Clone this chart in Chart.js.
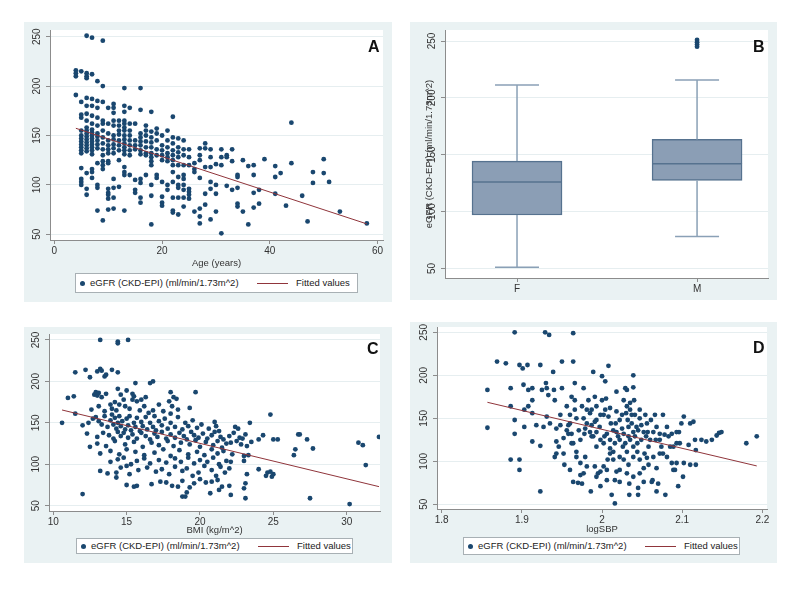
<!DOCTYPE html>
<html>
<head>
<meta charset="utf-8">
<script src="https://cdn.jsdelivr.net/npm/chart.js@4.4.1/dist/chart.umd.min.js"></script>
<style>
  body { margin: 0; background: #fff; font-family: "Liberation Sans", Arial, sans-serif; }
  .panel { position: absolute; background: #eaf2f3; }
  .panel canvas { position: absolute; left: 0; top: 0; }
  .tag { position: absolute; font-weight: bold; font-size: 16px; line-height: 16px; color: #111; }
  .legend { position: absolute; background: #fff; border: 1px solid #a8b0b4; box-sizing: border-box; font-size: 9.5px; color: #222; }
  .legend span { position: absolute; white-space: nowrap; }
  .legend .dot { width: 5px; height: 5px; border-radius: 50%; background: #1a476f; }
  .legend .ln { height: 0; border-top: 1px solid #90353b; }
</style>
</head>
<body>
<div class="panel" id="pA" style="left:24px;top:22px;width:368px;height:280px">
  <canvas id="cA" width="368" height="280"></canvas>
  <div class="tag" style="left:344px;top:17px">A</div>
</div>
<div class="panel" id="pB" style="left:410px;top:22px;width:367px;height:278px">
  <canvas id="cB" width="367" height="278"></canvas>
  <div class="tag" style="left:343px;top:17px">B</div>
</div>
<div class="panel" id="pC" style="left:24px;top:327px;width:368px;height:236px">
  <canvas id="cC" width="368" height="236"></canvas>
  <div class="tag" style="left:343px;top:14px">C</div>
</div>
<div class="panel" id="pD" style="left:410px;top:322px;width:367px;height:241px">
  <canvas id="cD" width="367" height="241"></canvas>
  <div class="tag" style="left:343px;top:18px">D</div>
</div>

<script>
// ---- data ----
const legendLabels = ['eGFR (CKD-EPI) (ml/min/1.73m^2)', 'Fitted values'];
const egfrTicks = [50, 100, 150, 200, 250];

// A: age (years) -> eGFR values seen in that column
const ageTicks = [0, 20, 40, 60];
const ageColumns = [
  [4, [216, 213, 210, 191]],
  [5, [215, 184, 171, 168, 155, 150, 147, 144, 141, 138, 135, 132, 117, 106, 103, 100]],
  [6, [251, 213, 210, 208, 188, 180, 172, 165, 158, 155, 152, 149, 146, 143, 140, 137, 134, 112, 96, 90]],
  [7, [249, 212, 187, 180, 170, 162, 156, 153, 150, 147, 144, 141, 138, 135, 131, 116, 113, 107]],
  [8, [205, 185, 178, 168, 160, 152, 149, 145, 141, 137, 122, 100, 97, 74]],
  [9, [246, 200, 184, 165, 162, 155, 148, 142, 136, 130, 124, 120, 116, 64]],
  [10, [178, 162, 152, 145, 140, 136, 132, 124, 122, 96, 92, 90, 86, 75]],
  [11, [182, 178, 173, 165, 160, 150, 146, 141, 137, 132, 106, 97, 87, 76]],
  [12, [165, 160, 155, 151, 145, 140, 135, 125, 98]],
  [13, [198, 180, 174, 165, 162, 158, 155, 150, 146, 142, 138, 135, 131, 118, 113, 110, 74]],
  [14, [178, 162, 155, 150, 145, 140, 135, 130, 110]],
  [15, [162, 145, 140, 136, 105, 95, 92]],
  [16, [198, 176, 152, 148, 144, 140, 135, 131, 106, 102, 87, 82]],
  [17, [160, 155, 150, 144, 138, 132, 130, 110]],
  [18, [174, 154, 148, 143, 138, 132, 128, 124, 120, 100, 89, 60]],
  [19, [157, 152, 145, 136, 130, 110, 107]],
  [20, [150, 140, 135, 130, 125, 103, 88, 82, 79]],
  [21, [155, 145, 138, 132, 128, 124, 100, 95]],
  [22, [169, 148, 142, 135, 130, 125, 120, 113, 103, 87, 74, 72]],
  [23, [147, 138, 133, 128, 120, 108, 100, 97, 87, 70]],
  [24, [145, 136, 130, 120, 110, 106, 100, 95, 87, 78]],
  [25, [136, 128, 120, 96, 93, 90, 86]],
  [26, [122, 116, 113, 73]],
  [27, [137, 130, 125, 107, 76, 68, 61]],
  [28, [142, 137, 118, 91, 80]],
  [29, [136, 128, 118, 103, 96, 65]],
  [30, [121, 100, 91, 73]],
  [31, [136, 128, 120, 51]],
  [32, [130, 128, 99]],
  [33, [136, 124, 95]],
  [34, [110, 108, 97, 81, 78]],
  [35, [125, 73]],
  [36, [119, 60]],
  [37, [120, 110, 92, 77]],
  [38, [95, 81]],
  [39, [126]],
  [41, [119, 108, 91]],
  [42, [112]],
  [43, [79]],
  [44, [163, 122]],
  [46, [89]],
  [47, [63]],
  [48, [113, 102]],
  [50, [126, 112]],
  [51, [103]],
  [53, [73]],
  [58, [61]]
];
const ageFit = [[4, 157.3], [58, 60.5]];

// B: box plot by sex
const sexCats = ['F', 'M'];
const boxMin = [51, 78];
const boxQ1 = [97, 127.4];
const boxMedian = [126, 142];
const boxQ3 = [144.4, 163.5];
const boxMax = [211.3, 215.7];
const outliersM = [251, 249, 247, 245];

// C: BMI (kg/m^2) vs eGFR
const bmiTicks = [10, 15, 20, 25, 30];
const bmiPoints = [
  [13.2,250],[14.4,248],[14.4,246],[15.1,250],
  [11.5,211],[12.2,214],[12.5,205],[13.0,212],[13.2,215],[13.3,213],[13.5,206],[13.6,208],[14.0,214],[14.4,211],
  [11.0,180],[11.4,182],[12.8,184],[12.9,187],[13.0,183],[13.1,186],[13.3,181],[13.6,185],[14.4,191],[14.6,184],
  [15.0,189],[15.4,185],[15.6,198],[15.5,182],[16.0,178],[16.3,181],[16.6,198],[16.8,200],[18.0,187],[18.2,181],
  [18.4,179],[19.7,187],
  [11.5,161],[12.6,166],[13.1,170],[13.5,164],[13.9,172],[14.0,167],[14.2,175],[14.3,165],[14.5,172],[14.8,178],
  [14.9,170],[15.2,167],[15.4,178],[15.7,176],[15.9,165],[16.2,170],[16.5,162],[16.8,165],[17.2,172],[17.5,164],
  [17.9,176],[18.1,170],[18.5,166],[19.3,168],[18.0,161],
  [10.6,150],[12.4,150],[12.7,155],[12.9,157],[13.1,152],[13.3,148],[13.5,158],[13.7,145],[13.9,153],[14.0,160],
  [14.1,148],[14.2,156],[14.3,143],[14.4,150],[14.5,158],[14.6,146],[14.7,152],[14.9,142],[15.0,155],[15.1,147],
  [15.2,158],[15.3,141],[15.5,150],[15.6,145],[15.7,156],[15.9,140],[16.0,151],[16.1,146],[16.3,157],[16.4,142],
  [16.6,150],[16.8,145],[16.9,158],[17.0,141],[17.2,152],[17.4,147],[17.6,155],[17.8,143],[18.0,150],[18.3,145],
  [18.5,157],[18.8,142],[19.0,150],[19.2,146],[19.5,153],[19.8,144],[20.1,148],[20.6,143],[21.0,151],[21.1,146],
  [21.3,140],[22.4,145],[22.6,143],[23.4,150],[24.8,160],[12.0,147],
  [12.3,137],[13.0,133],[13.4,138],[13.8,135],[14.1,131],[14.4,139],[14.6,134],[14.8,138],[15.1,132],[15.4,136],
  [15.7,131],[16.0,138],[16.3,134],[16.6,130],[16.9,137],[17.1,133],[17.4,139],[17.7,131],[18.0,136],[18.3,132],
  [18.6,138],[18.9,134],[19.1,130],[19.4,139],[19.6,135],[19.9,132],[20.2,137],[20.5,131],[20.8,135],[21.0,139],
  [21.4,133],[21.6,130],[22.0,134],[22.3,138],[22.7,132],[22.9,131],[23.1,136],[24.0,130],[24.3,135],[25.0,130],
  [25.3,130],[26.7,136],[26.8,136],[27.3,130],[32.2,133],
  [12.5,121],[13.0,125],[13.6,122],[14.2,128],[14.9,124],[15.5,127],[16.1,121],[16.7,126],[17.2,123],[17.8,128],
  [18.2,122],[18.7,126],[19.3,124],[19.7,129],[20.0,121],[20.4,127],[20.9,123],[21.2,128],[21.5,120],[21.8,125],
  [22.1,126],[22.5,128],[22.8,124],[23.2,122],[23.5,127],[26.5,118],[27.7,119],[30.8,126],[31.1,123],
  [13.2,113],[13.9,116],[14.5,112],[15.0,118],[15.6,115],[16.2,111],[16.9,114],[17.5,118],[18.0,110],[18.6,117],
  [19.2,112],[19.8,115],[20.3,111],[20.8,118],[21.2,113],[21.6,116],[22.2,112],[23.0,110],[23.3,111],[26.4,111],
  [13.9,103],[14.4,106],[14.8,108],[15.3,100],[15.7,104],[16.2,107],[16.6,101],[17.2,105],[17.7,102],[18.3,107],
  [18.7,103],[19.2,108],[19.6,101],[20.0,105],[20.5,103],[20.9,108],[21.3,100],[21.8,104],[22.1,103],[23.0,104],
  [24.0,94],[24.6,90],[24.8,91],[25.0,88],[31.3,99],
  [13.2,92],[13.7,89],[14.3,90],[14.6,96],[15.0,98],[15.2,88],[15.8,93],[16.4,96],[17.0,91],[17.4,94],
  [17.9,88],[18.3,97],[18.8,92],[19.1,95],[19.5,86],[19.9,90],[20.3,98],[20.8,93],[21.1,86],[21.4,97],
  [21.7,90],[22.0,95],[23.2,88],[24.5,86],[24.9,85],
  [14.3,84],[15.0,75],[15.5,73],[15.7,74],[16.7,76],[17.3,79],[17.7,78],[18.1,74],[18.5,73],[18.8,80],
  [19.3,72],[19.6,77],[20.0,82],[20.4,78],[20.8,79],[21.2,81],[21.5,73],[22.0,74],[23.0,71],[23.1,77],
  [12.0,64],[18.8,61],[19.0,61],[19.1,66],[20.7,65],[21.3,69],[22.1,63],[23.1,59],[27.5,59],[30.2,52]
];
const bmiFit = [[10.6, 165.5], [32.2, 73]];

// D: logSBP vs eGFR
const sbpTicks = [1.8, 1.9, 2, 2.1, 2.2];
const sbpPoints = [
  [1.857,139],[1.857,183],[1.869,216],[1.880,214],[1.886,185],[1.886,164],[1.886,102],[1.891,148],[1.891,132],
  [1.891,250],[1.897,212],[1.897,102],[1.897,90],[1.901,208],[1.902,189],[1.903,160],[1.903,140],[1.907,212],
  [1.908,183],[1.908,164],[1.913,156],[1.913,171],[1.913,185],[1.913,123],[1.918,142],[1.923,65],[1.923,118],
  [1.923,212],[1.925,183],[1.929,250],[1.934,247],[1.930,191],[1.931,185],[1.933,177],[1.927,140],[1.931,152],
  [1.935,144],[1.939,204],[1.940,183],[1.941,171],[1.943,138],[1.946,117],[1.950,216],[1.948,154],[1.950,185],
  [1.952,127],[1.952,109],[1.953,96],[1.956,164],[1.958,142],[1.958,132],[1.960,154],[1.962,175],[1.962,121],
  [1.960,90],[1.964,249],[1.964,216],[1.966,191],[1.966,171],[1.966,160],[1.968,150],[1.968,111],[1.964,76],
  [1.970,75],[1.975,74],[1.971,136],[1.973,125],[1.973,98],[1.973,84],[1.977,185],[1.977,150],[1.978,132],
  [1.979,105],[1.983,171],[1.985,156],[1.987,129],[1.986,65],[1.989,204],[1.991,175],[1.991,146],[1.991,94],
  [1.993,117],[1.995,86],[1.997,140],[2.000,199],[2.000,171],[2.002,154],[2.003,129],[2.004,193],[2.005,173],
  [2.006,78],[2.007,102],[2.008,211],[2.010,162],[2.012,61],[2.014,111],[2.016,51],[2.017,144],[2.018,88],
  [2.018,181],[2.020,129],[2.022,76],[2.025,154],[2.026,117],[2.029,185],[2.031,183],[2.031,164],[2.032,148],
  [2.033,140],[2.033,129],[2.033,96],[2.034,74],[2.034,61],[2.039,200],[2.039,186],[2.040,171],[2.041,154],
  [2.043,140],[2.044,121],[2.044,111],[2.045,69],[2.045,61],[2.047,160],[2.049,125],[2.052,92],[2.052,76],
  [2.056,144],[2.057,134],[2.058,117],[2.061,148],[2.062,76],[2.063,78],[2.066,154],[2.067,125],[2.068,92],
  [2.068,65],[2.070,74],[2.072,132],[2.074,117],[2.076,109],[2.076,154],[2.079,61],[2.081,140],[2.083,129],
  [2.085,117],[2.087,98],[2.089,90],[2.091,90],[2.093,98],[2.095,71],[2.096,134],[2.097,121],[2.099,144],
  [2.101,82],[2.102,152],[2.102,98],[2.108,119],[2.110,144],[2.110,96],[2.114,146],[2.116,125],[2.117,113],
  [2.117,96],[2.124,125],[2.130,123],[2.137,125],[2.143,130],[2.146,133],[2.149,134],[2.180,121],[2.193,129],
  [2.004,160],[2.008,152],[2.011,144],[2.014,136],[2.018,158],[2.022,148],[2.025,138],[2.027,132],[2.035,160],
  [2.037,154],[2.037,144],[2.039,134],[2.041,129],[2.045,136],[2.047,150],[2.049,142],[2.052,134],[2.054,154],
  [2.055,129],[2.035,168],[2.030,156],[2.027,171],[1.998,154],[1.993,148],[1.987,142],[1.981,144],[1.979,138],
  [1.985,134],[1.989,129],[1.993,134],[1.998,125],[2.002,121],[2.006,132],[2.010,125],[1.975,164],[1.981,160],
  [1.987,160],[1.993,164],[1.956,136],[1.960,144],[1.962,132],[1.943,109],[1.941,105],[1.943,123],[1.948,142],
  [2.002,94],[2.006,90],[1.998,88],[2.010,109],[2.014,102],[2.022,105],[2.027,102],[2.031,111],[2.039,105],
  [2.047,102],[2.056,104],[2.064,105],[2.072,109],[2.081,105],[2.089,117],[2.093,121],[2.072,125],[2.078,131],
  [2.087,132],[2.093,134],[2.064,134],[2.068,140],[2.060,125],[2.053,109],[2.058,96],[2.047,86],[2.039,82],
  [2.031,86],[2.022,90],[2.016,78],[1.998,71],[1.993,82],[1.981,94],[1.977,86],[1.968,105],[1.964,121],
  [2.039,117],[2.035,125],[2.029,121],[2.022,125],[2.018,134],[2.016,121],[2.010,115]
];
const sbpFit = [[1.857, 168.6], [2.193, 94.6]];

// ---- styling ----
Chart.defaults.font.family = '"Liberation Sans", Arial, sans-serif';
Chart.defaults.font.size = 10;
Chart.defaults.color = '#333';
const navy = '#1a476f';
const maroon = '#90353b';
const axisColor = '#8c8c8c';
const gridColor = '#e6eef0';
const boxFill = '#8b9eb5';
const boxEdge = '#56728f';
const whiskerColor = '#8aa0b6';
const boxWidth = 90;
const capWidth = 44;

const plotBg = {
  id: 'plotBg',
  beforeDraw(chart) {
    const { ctx, chartArea: a } = chart;
    ctx.save();
    ctx.fillStyle = '#fff';
    ctx.fillRect(a.left, a.top, a.right - a.left, a.bottom - a.top);
    ctx.restore();
  }
};

function fixedTicks(values) {
  return (scale) => { scale.ticks = values.map((v) => ({ value: v })); };
}

function yAxis(min, max, width, title) {
  return {
    type: 'linear',
    min, max,
    afterBuildTicks: fixedTicks(egfrTicks),
    afterFit: (s) => { s.width = width; s.paddingTop = 0; s.paddingBottom = 0; },
    grid: { color: gridColor, tickColor: axisColor, tickLength: 4 },
    border: { color: axisColor },
    ticks: { minRotation: 90, maxRotation: 90, crossAlign: 'center', padding: 0, callback: (v) => String(v) },
    title: title
      ? { display: true, text: title, color: '#333', font: { size: 9.5 }, padding: { top: 13.5, bottom: 0 } }
      : { display: false }
  };
}

function xAxis(min, max, height, ticks, title, titlePad, labels) {
  return {
    type: 'linear',
    min, max,
    offset: false,
    afterBuildTicks: fixedTicks(ticks),
    afterFit: (s) => { s.height = height; s.paddingLeft = 0; s.paddingRight = 0; },
    grid: { drawOnChartArea: false, offset: false, tickColor: axisColor, tickLength: 4 },
    border: { color: axisColor },
    ticks: { maxRotation: 0, padding: 1, callback: (v, i) => labels ? labels[i] : String(v) },
    title: title
      ? { display: true, text: title, color: '#333', font: { size: 9.5 }, padding: { top: 0, bottom: titlePad } }
      : { display: false }
  };
}

function scatterChart(id, points, fit, x, y, padding) {
  return new Chart(document.getElementById(id), {
    type: 'scatter',
    data: {
      datasets: [
        {
          label: legendLabels[1],
          data: fit.map(([a, b]) => ({ x: a, y: b })),
          showLine: true,
          borderColor: maroon,
          borderWidth: 1,
          pointRadius: 0,
          order: 0
        },
        {
          label: legendLabels[0],
          data: points.map(([a, b]) => ({ x: a, y: b })),
          pointRadius: 2.4,
          pointBackgroundColor: navy,
          pointBorderWidth: 0,
          order: 1
        }
      ]
    },
    options: {
      responsive: false,
      animation: false,
      devicePixelRatio: 1,
      layout: { padding },
      plugins: { legend: { display: false }, tooltip: { enabled: false } },
      scales: { x, y }
    },
    plugins: [plotBg]
  });
}

function addLegend(panelId, box) {
  const el = document.createElement('div');
  el.className = 'legend';
  Object.assign(el.style, {
    left: box.left + 'px', top: box.top + 'px', width: box.width + 'px', height: box.height + 'px'
  });
  const mid = box.height / 2 - 1;
  el.innerHTML =
    `<span class="dot" style="left:4px;top:${mid - 2.5}px"></span>` +
    `<span style="left:14px;top:${mid - 6}px">${legendLabels[0]}</span>` +
    `<span class="ln" style="left:181px;width:31px;top:${mid}px"></span>` +
    `<span style="left:220px;top:${mid - 6}px">${legendLabels[1]}</span>`;
  document.getElementById(panelId).appendChild(el);
}

// A: age
const agePoints = ageColumns.flatMap(([age, vals]) => vals.map((v) => [age, v]));
scatterChart('cA', agePoints, ageFit,
  xAxis(-0.8, 61, 32, ageTicks, 'Age (years)', 3.3),
  yAxis(44.2, 256.8, 26),
  { top: 8, right: 9, bottom: 30, left: 0 });
addLegend('pA', { left: 51, top: 251, width: 283, height: 20 });

// B: box plot by sex
const boxWhiskers = {
  id: 'boxWhiskers',
  afterDatasetsDraw(chart) {
    const { ctx, scales: { x, y } } = chart;
    ctx.save();
    sexCats.forEach((c, i) => {
      const cx = x.getPixelForValue(i + 1);
      ctx.strokeStyle = whiskerColor;
      ctx.lineWidth = 1.5;
      ctx.beginPath();
      ctx.moveTo(cx, y.getPixelForValue(boxQ3[i]));
      ctx.lineTo(cx, y.getPixelForValue(boxMax[i]));
      ctx.moveTo(cx, y.getPixelForValue(boxQ1[i]));
      ctx.lineTo(cx, y.getPixelForValue(boxMin[i]));
      ctx.moveTo(cx - capWidth / 2, y.getPixelForValue(boxMax[i]));
      ctx.lineTo(cx + capWidth / 2, y.getPixelForValue(boxMax[i]));
      ctx.moveTo(cx - capWidth / 2, y.getPixelForValue(boxMin[i]));
      ctx.lineTo(cx + capWidth / 2, y.getPixelForValue(boxMin[i]));
      ctx.stroke();
      ctx.strokeStyle = boxEdge;
      ctx.beginPath();
      ctx.moveTo(cx - boxWidth / 2, y.getPixelForValue(boxMedian[i]));
      ctx.lineTo(cx + boxWidth / 2, y.getPixelForValue(boxMedian[i]));
      ctx.stroke();
    });
    ctx.restore();
  }
};

new Chart(document.getElementById('cB'), {
  type: 'bar',
  data: {
    datasets: [
      {
        type: 'scatter',
        data: outliersM.map((v) => ({ x: 2, y: v })),
        pointRadius: 2.4,
        pointBackgroundColor: navy,
        pointBorderWidth: 0
      },
      {
        type: 'bar',
        data: sexCats.map((c, i) => ({ x: i + 1, y: [boxQ1[i], boxQ3[i]] })),
        backgroundColor: boxFill,
        borderColor: boxEdge,
        borderWidth: 1.5,
        borderSkipped: false,
        barThickness: boxWidth
      }
    ]
  },
  options: {
    responsive: false,
    animation: false,
    devicePixelRatio: 1,
    layout: { padding: { top: 8, right: 9, bottom: 2, left: 0 } },
    plugins: { legend: { display: false }, tooltip: { enabled: false } },
    scales: {
      x: xAxis(0.6, 2.394, 20, [1, 2], null, 0, sexCats),
      y: yAxis(41.6, 259.7, 35, legendLabels[0])
    }
  },
  plugins: [plotBg, boxWhiskers]
});

// C: BMI
scatterChart('cC', bmiPoints, bmiFit,
  xAxis(9.71, 32.27, 26, bmiTicks, 'BMI (kg/m^2)', 1.4),
  yAxis(43.6, 257.2, 25),
  { top: 7, right: 12, bottom: 26, left: 0 });
addLegend('pC', { left: 52, top: 211, width: 277, height: 16 });

// D: logSBP
scatterChart('cD', sbpPoints, sbpFit,
  xAxis(1.7941, 2.2058, 28, sbpTicks, 'logSBP', 1.7),
  yAxis(44.5, 256.2, 27),
  { top: 5, right: 10, bottom: 26, left: 0 });
addLegend('pD', { left: 53, top: 215, width: 277, height: 18 });
</script>
</body>
</html>
